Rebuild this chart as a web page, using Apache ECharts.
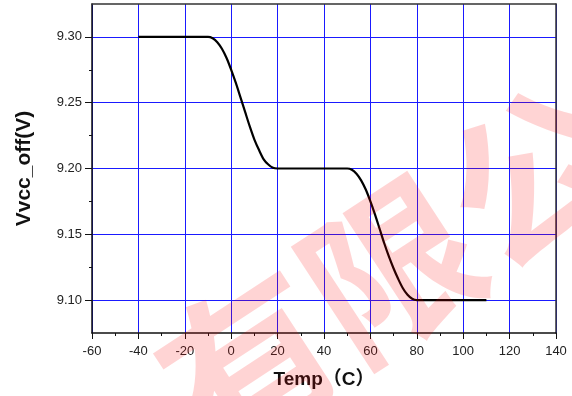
<!DOCTYPE html>
<html>
<head>
<meta charset="utf-8">
<script src="https://cdn.jsdelivr.net/npm/echarts@6/dist/echarts.min.js"></script>
<style>
  html, body { margin: 0; padding: 0; background: #fff; }
  #chart { width: 572px; height: 396px; }
</style>
</head>
<body>
<div id="chart"></div>
<script>
// temperature (C) vs Vvcc_off (V)
const temps = [-40, -10, -8, -6, -4, -2, 0, 2, 4, 6, 8, 10, 12, 14, 16, 18, 20,
  50, 52, 54, 56, 58, 60, 62, 64, 66, 68, 70, 72, 74, 76, 78, 80, 110]
const vvccOff = [9.30, 9.30, 9.299, 9.296, 9.291, 9.284, 9.275, 9.265, 9.254, 9.243, 9.232, 9.222, 9.214, 9.207, 9.203, 9.2005, 9.20,
  9.20, 9.199, 9.196, 9.191, 9.184, 9.175, 9.165, 9.154, 9.143, 9.133, 9.124, 9.116, 9.109, 9.104, 9.101, 9.10, 9.10]
const yMajor = [9.10, 9.15, 9.20, 9.25, 9.30]
const yMinor = [9.125, 9.175, 9.225, 9.275]

const font = '"Liberation Sans", Arial, "Noto Sans CJK SC", sans-serif'
const gridBlue = '#1a1aff'

const chart = echarts.init(document.getElementById('chart'))
chart.setOption({
  animation: false,
  backgroundColor: '#fff',
  grid: { left: 92, top: 4, width: 464, height: 329 },
  xAxis: [
    {
      type: 'value', min: -60, max: 140, interval: 20, position: 'bottom',
      name: 'Temp（C）', nameLocation: 'middle', nameGap: 37,
      nameTextStyle: { fontFamily: font, fontSize: 19, fontWeight: 'bold', color: '#111' },
      axisLine: { onZero: false, lineStyle: { color: '#111', width: 1.5 } },
      axisTick: { length: 6, lineStyle: { color: '#111' } },
      minorTick: { show: true, splitNumber: 2, length: 3, lineStyle: { color: '#111' } },
      axisLabel: { margin: 12, fontFamily: font, fontSize: 13, color: '#222' },
      splitLine: { show: true, lineStyle: { color: gridBlue, width: 1 } },
    },
    {
      type: 'value', min: -60, max: 140, interval: 20, position: 'top',
      axisLine: { onZero: false, lineStyle: { color: '#333', width: 1.5 } },
      axisTick: { show: false }, axisLabel: { show: false }, splitLine: { show: false },
    },
  ],
  yAxis: [
    {
      type: 'value', min: 9.075, max: 9.325, splitNumber: 5, position: 'left',
      name: 'Vvcc_off(V)', nameLocation: 'middle', nameGap: 57,
      nameTextStyle: { fontFamily: font, fontSize: 21, fontWeight: 'bold', color: '#111' },
      axisLine: { onZero: false, lineStyle: { color: '#111', width: 1.5 } },
      axisTick: { customValues: yMajor, length: 7, lineStyle: { color: '#111' } },
      axisLabel: { customValues: yMajor, margin: 10, fontFamily: font, fontSize: 13, color: '#222', formatter: v => v.toFixed(2) },
      splitLine: { show: true, lineStyle: { color: gridBlue, width: 1 } },
    },
    {
      type: 'value', min: 9.075, max: 9.325, position: 'left',
      axisLine: { show: false, onZero: false },
      axisTick: { customValues: yMinor, length: 3, lineStyle: { color: '#111' } },
      axisLabel: { show: false }, splitLine: { show: false },
    },
    {
      type: 'value', min: 9.075, max: 9.325, position: 'right',
      axisLine: { show: true, onZero: false, lineStyle: { color: '#333', width: 1.5 } },
      axisTick: { show: false }, axisLabel: { show: false }, splitLine: { show: false },
    },
  ],
  series: [
    {
      type: 'line', xAxisIndex: 0, yAxisIndex: 0,
      data: temps.map((t, i) => [t, vvccOff[i]]),
      smooth: 0.3, symbol: 'none',
      lineStyle: { color: '#000', width: 2.2 },
    },
  ],
  graphic: [
    {
      type: 'text', x: 462, y: 222, rotation: 0.58, z: 100, silent: true,
      style: {
        text: '有限公司', align: 'center', verticalAlign: 'middle',
        font: 'bold 170px "Noto Sans CJK SC"', fill: 'rgba(255,0,0,0.17)',
      },
    },
  ],
})
</script>
</body>
</html>
